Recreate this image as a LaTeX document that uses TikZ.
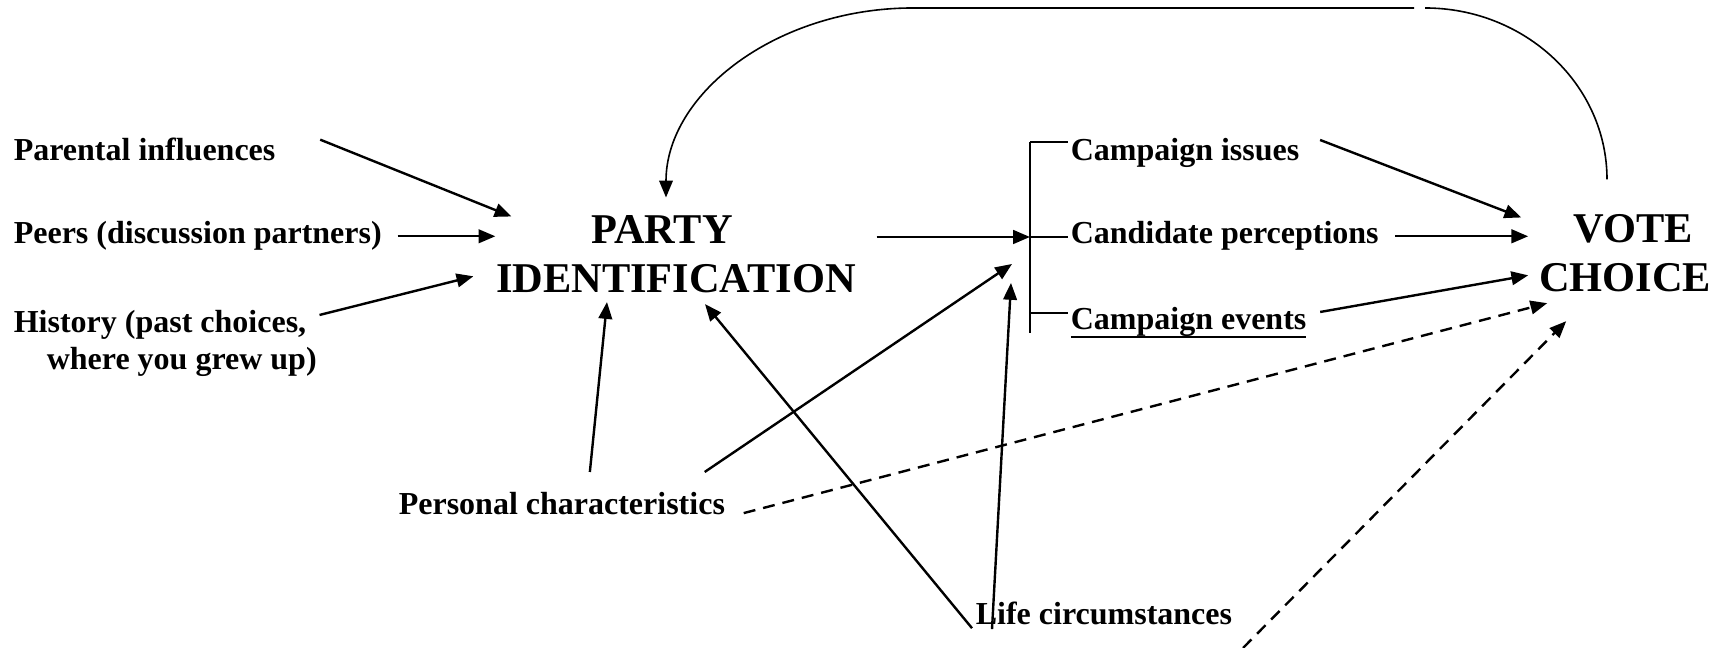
\documentclass[tikz,border=0pt]{standalone}
\usepackage{fontspec}
\setmainfont{Liberation Serif}
\usepackage{tikz}
\usetikzlibrary{arrows.meta}
\tikzset{>={Triangle[length=4.2pt,width=3.4pt]}}
\tikzset{lbl/.style={inner sep=0pt,anchor=base west,font=\fontsize{8}{9.2}\selectfont\bfseries},
  big/.style={inner sep=0pt,anchor=north,align=center,font=\fontsize{10.6}{12.4}\selectfont\bfseries},
  link/.style={->,line width=0.6pt},
  dlink/.style={->,line width=0.6pt,dash pattern=on 3pt off 2pt},
  thinline/.style={line width=0.4pt}}
\newcommand\evline[1]{\setbox0\hbox{#1}\rlap{\rule[-2.1pt]{\wd0}{0.65pt}}\box0}

\begin{document}
\begin{tikzpicture}[x=0.25pt,y=-0.25pt]
\useasboundingbox (0,0) rectangle (1724,648);
\node[lbl] (par) at (13,161) {Parental influences};
\node[lbl] (peers) at (13,244) {Peers (discussion partners)};
\node[lbl,anchor=north west,align=left] (hist) at (13,310) {History (past choices,\\\hspace*{8.25pt}where you grew up)};
\node[big] (pi) at (676,214.5) {PARTY\hspace*{7pt}\\IDENTIFICATION};
\node[lbl] (ci) at (1070,161) {Campaign issues};
\node[lbl] (cp) at (1070,244) {Candidate perceptions};
\node[lbl] (ce) at (1070,330) {\evline{Campaign events}};
\node[big] (vc) at (1625,213.5) {\hspace*{4pt}VOTE\\CHOICE};
\node[lbl] (pc) at (398,515) {Personal characteristics};
\node[lbl] (lc) at (975,625) {Life circumstances};

\coordinate (b1) at (1030,142);
\coordinate (b2) at (1030,237);
\coordinate (b3) at (1030,313);
\coordinate (b4) at (1030,333);
\coordinate (low) at (1243,648);
\coordinate (fbR) at (1425,8);
\coordinate (fbL) at (1414,8);
\coordinate (fbC) at (913,8);

\draw[thinline] (b1) -- (b4);
\foreach \b in {b1,b2,b3}
  \draw[thinline] (\b) -- ++(38,0);

\draw[link] ([shift={(44,2)}]par.north east) -- ([shift={(16,2)}]pi.north west);
\draw[link,shorten <=3.75pt] (peers.east) -- (peers.east -| pi.west);
\draw[link] ([shift={(2,5)}]hist.north east) -- ([shift={(-22,22)}]pi.west);
\draw[link,shorten <=5pt] (pi.east |- b2) -- (b2);
\draw[link] ([shift={(20,2)}]ci.north east) -- ([shift={(-17,4)}]vc.north west);
\draw[link,shorten <=4pt,shorten >=2.5pt] (cp.east) -- (cp.east -| vc.west);
\draw[link] ([shift={(13,5)}]ce.north east) -- ([shift={(-10,22)}]vc.west);
\draw[link] ([shift={(28,-20)}]pc.north) -- ([shift={(-69,8)}]pi.south);
\draw[link] ([shift={(-21,-20)}]pc.north east) -- ([shift={(-18,27)}]b2);
\draw[dlink] ([shift={(18,-3)}]pc.south east) -- ([shift={(9,10)}]vc.south west);
\draw[link] ([shift={(-3,2)}]lc.south west) -- ([shift={(29,10)}]pi.south);
\draw[link] ([shift={(17,3)}]lc.south west) -- ([shift={(-19,46)}]b2);
\draw[dlink] (low) -- ([shift={(28,28)}]vc.south west);

\draw[thinline] ([shift={(-18,-34)}]vc.north) .. controls +(0,-95) and +(100,0) .. (fbR);
\draw[thinline,->] (fbL) -- (fbC) .. controls +(-136,0) and +(0,-104) .. ([shift={(-10,-17)}]pi.north);
\end{tikzpicture}
\end{document}
